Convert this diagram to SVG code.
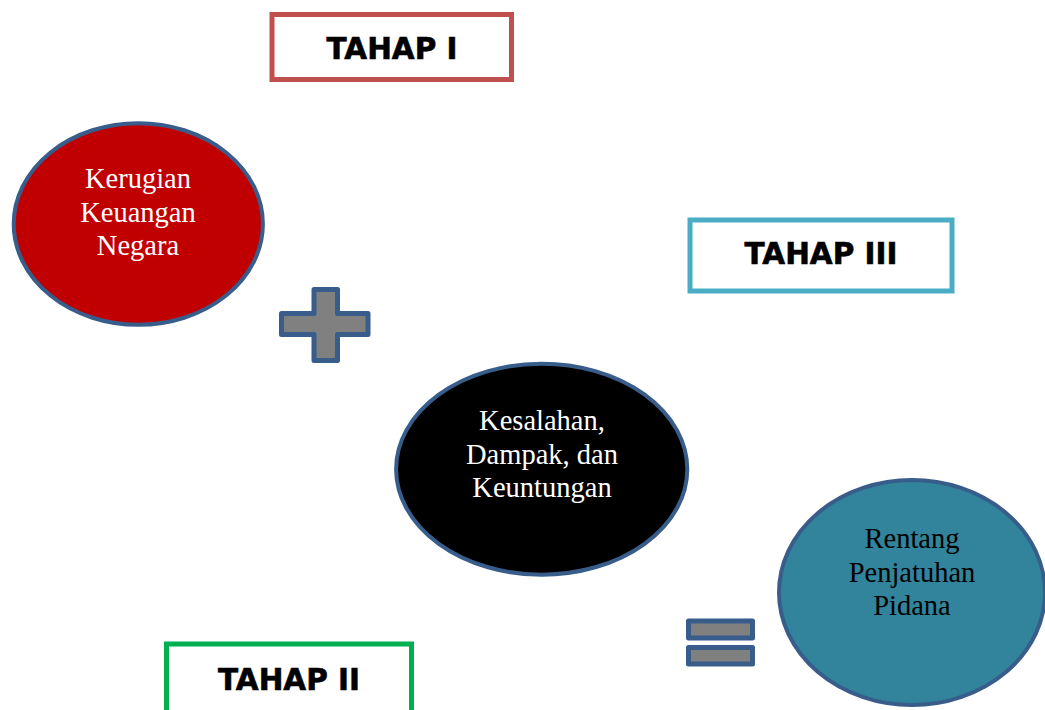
<svg xmlns="http://www.w3.org/2000/svg" width="1045" height="710" viewBox="0 0 1045 710">
<style>
.box{fill:#fff;stroke-width:5}
.bt{font-family:"DejaVu Sans",sans-serif;font-weight:bold;font-size:29.5px;fill:#000;text-anchor:middle;stroke:#000;stroke-width:0.6}
.ell{stroke:#385D8A;stroke-width:4}
.et{font-family:"Liberation Serif","Times New Roman",serif;font-size:28.5px;text-anchor:middle}
.op{fill:#808080;stroke:#385D8A;stroke-width:5;stroke-linejoin:round}
</style>
<rect width="1045" height="710" fill="#fff"/>
<g id="tahap1">
<rect class="box" x="272" y="14.5" width="239.5" height="65" stroke="#C0504D"/>
<text class="bt" x="392" y="59">TAHAP I</text>
</g>
<g id="tahap3">
<rect class="box" x="690" y="220" width="262" height="71" stroke="#4BACC6"/>
<text class="bt" x="821" y="264">TAHAP III</text>
</g>
<g id="tahap2">
<rect class="box" x="166.5" y="644" width="245" height="80" stroke="#00B050"/>
<text class="bt" x="289" y="690">TAHAP II</text>
</g>
<g id="kerugian">
<ellipse class="ell" cx="138.3" cy="224" rx="124.6" ry="100.8" fill="#C00000"/>
<text class="et" fill="#fff" x="138" y="187.7">Kerugian</text>
<text class="et" fill="#fff" x="138" y="221.7">Keuangan</text>
<text class="et" fill="#fff" x="138" y="255">Negara</text>
</g>
<g id="plus">
<path class="op" d="M314,289.5 H337.5 V313.5 H368 V334.5 H337.5 V360.5 H314 V334.5 H281.5 V313.5 H314 Z"/>
</g>
<g id="kesalahan">
<ellipse class="ell" cx="541.7" cy="469.2" rx="145.6" ry="105.5" fill="#000"/>
<text class="et" fill="#fff" x="542" y="430">Kesalahan,</text>
<text class="et" fill="#fff" x="542" y="464.3">Dampak, dan</text>
<text class="et" fill="#fff" x="542" y="496.7">Keuntungan</text>
</g>
<g id="equals">
<rect class="op" x="688.5" y="621" width="64" height="17"/>
<rect class="op" x="688.5" y="647.5" width="64" height="16.5"/>
</g>
<g id="rentang">
<ellipse class="ell" cx="912" cy="592.5" rx="133" ry="112.5" fill="#31849B"/>
<text class="et" fill="#000" x="912" y="548">Rentang</text>
<text class="et" fill="#000" x="912" y="582">Penjatuhan</text>
<text class="et" fill="#000" x="912" y="615">Pidana</text>
</g>
<g id="connectors"></g>
</svg>
